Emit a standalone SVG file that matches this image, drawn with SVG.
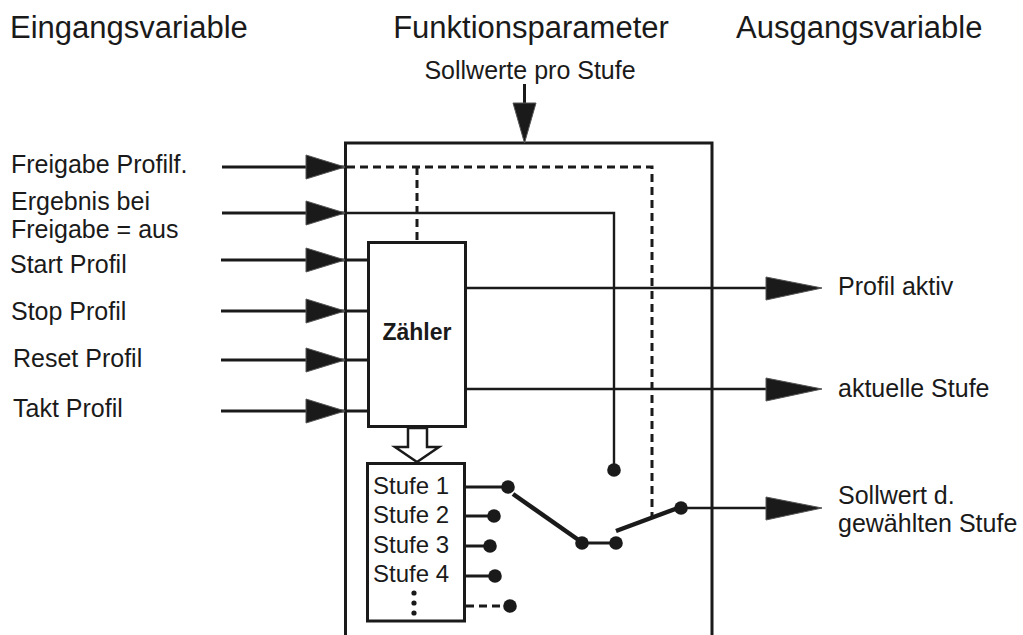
<svg xmlns="http://www.w3.org/2000/svg" width="1023" height="635" viewBox="0 0 1023 635">
<defs>
<style>
text{font-family:"Liberation Sans",Arial,sans-serif;fill:#1a1a1a}
.h{font-size:31px}
.l{font-size:25px}
.s{font-size:24px}
.ln{stroke:#1a1a1a;stroke-width:3;fill:none}
.tn{stroke:#1a1a1a;stroke-width:2.4;fill:none}
.th{stroke:#1a1a1a;stroke-width:4.5;fill:none}
.da{stroke:#1a1a1a;stroke-width:3;fill:none;stroke-dasharray:8 5}
.ah{fill:#1a1a1a;stroke:#555;stroke-width:1}
.dot{fill:#1a1a1a}
</style>
</defs>
<rect width="1023" height="635" fill="#fff"/>
<g id="headers">
<text class="h" x="10" y="38">Eingangsvariable</text>
<text class="h" x="531" y="38" text-anchor="middle">Funktionsparameter</text>
<text class="h" x="736" y="38">Ausgangsvariable</text>
<text class="l" x="530" y="79" text-anchor="middle">Sollwerte pro Stufe</text>
</g>
<g id="inputs-labels">
<text class="l" x="11" y="173">Freigabe Profilf.</text>
<text class="l" x="11" y="210">Ergebnis bei</text>
<text class="l" x="11" y="238">Freigabe = aus</text>
<text class="l" x="10" y="273">Start Profil</text>
<text class="l" x="11" y="320">Stop Profil</text>
<text class="l" x="13" y="367">Reset Profil</text>
<text class="l" x="13" y="417">Takt Profil</text>
</g>
<g id="outputs-labels">
<text class="l" x="838" y="295">Profil aktiv</text>
<text class="l" x="838" y="397">aktuelle Stufe</text>
<text class="l" x="838" y="504">Sollwert d.</text>
<text class="l" x="838" y="532">gewählten Stufe</text>
</g>
<g id="function-block">
<path class="ln" d="M345.5,640 V143 H712 V640"/>
</g>
<g id="zaehler">
<rect x="368.5" y="242.5" width="97" height="184" fill="#fff" stroke="#1a1a1a" stroke-width="3"/>
<text x="417" y="340" text-anchor="middle" font-size="23" font-weight="bold">Zähler</text>
</g>
<g id="stufen">
<rect x="367.5" y="463.5" width="97" height="157.5" fill="#fff" stroke="#1a1a1a" stroke-width="3"/>
<text class="s" x="373" y="494">Stufe 1</text>
<text class="s" x="373" y="523">Stufe 2</text>
<text class="s" x="373" y="553">Stufe 3</text>
<text class="s" x="373" y="582">Stufe 4</text>
<circle class="dot" cx="414" cy="593" r="2.6"/>
<circle class="dot" cx="414" cy="603" r="2.6"/>
<circle class="dot" cx="414" cy="613" r="2.6"/>
</g>
<g id="connectors">
<!-- top parameter arrow -->
<path class="ln" d="M524.5,84 V106"/>
<polygon class="ah" points="513,103 536,103 524.5,143"/>
<!-- input arrows -->
<path class="ln" d="M222,167 H345"/>
<polygon class="ah" points="306,155 306,179 345,167"/>
<path class="ln" d="M222,213 H345"/>
<polygon class="ah" points="306,201 306,225 345,213"/>
<path class="ln" d="M221,260 H368"/>
<polygon class="ah" points="306,248 306,272 345,260"/>
<path class="ln" d="M221,311 H368"/>
<polygon class="ah" points="306,299 306,323 345,311"/>
<path class="ln" d="M221,360 H368"/>
<polygon class="ah" points="306,348 306,372 345,360"/>
<path class="ln" d="M221,411 H368"/>
<polygon class="ah" points="306,399 306,423 345,411"/>
<!-- enable dashed -->
<path class="da" d="M347,167 H652 V517"/>
<path class="da" d="M417,167 V242"/>
<!-- result on disable -->
<path class="tn" d="M345,213 H614 V470"/>
<circle class="dot" cx="614" cy="470" r="6.8"/>
<!-- counter outputs -->
<path class="tn" d="M466,288 H768"/>
<polygon class="ah" points="766,277 766,300 822,288"/>
<path class="tn" d="M466,389 H768"/>
<polygon class="ah" points="766,378 766,401 822,389"/>
<!-- hollow arrow -->
<polygon points="408,428 408,447 395,447 417,462 439,447 427,447 427,428" fill="#fff" stroke="#1a1a1a" stroke-width="2.5"/>
<!-- stage contacts -->
<path class="ln" d="M464,487 H508"/>
<circle class="dot" cx="508" cy="487" r="6.8"/>
<path class="ln" d="M464,516 H494"/>
<circle class="dot" cx="494" cy="516" r="6.8"/>
<path class="ln" d="M464,546 H490"/>
<circle class="dot" cx="490" cy="546" r="6.8"/>
<path class="ln" d="M464,576 H495"/>
<circle class="dot" cx="495" cy="576" r="6.8"/>
<path class="da" d="M466,606 H505"/>
<circle class="dot" cx="510" cy="606" r="6.8"/>
<!-- switches -->
<path class="th" d="M513,494 L580,541"/>
<path class="ln" d="M582,543 H616"/>
<circle class="dot" cx="582" cy="543" r="6.8"/>
<circle class="dot" cx="616" cy="543" r="6.8"/>
<path class="th" d="M616,531 L678,508"/>
<circle class="dot" cx="681" cy="508" r="6.8"/>
<path class="tn" d="M681,508 H768"/>
<polygon class="ah" points="766,497 766,520 822,508"/>
</g>
</svg>
